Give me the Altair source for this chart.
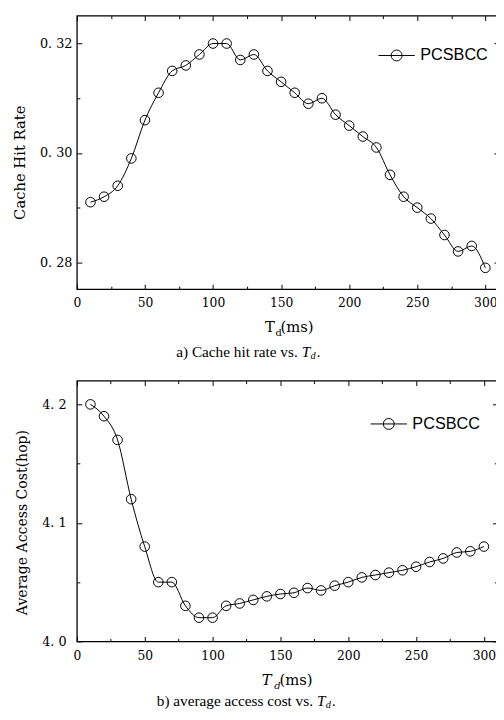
import altair as alt
import pandas as pd

# ---------------- data ----------------
td = [10, 20, 30, 40, 50, 60, 70, 80, 90, 100, 110, 120, 130, 140, 150,
      160, 170, 180, 190, 200, 210, 220, 230, 240, 250, 260, 270, 280, 290, 300]
hit_rate = [0.291, 0.292, 0.294, 0.299, 0.306, 0.311, 0.315, 0.316, 0.318, 0.320,
            0.320, 0.317, 0.318, 0.315, 0.313, 0.311, 0.309, 0.310, 0.307, 0.305,
            0.303, 0.301, 0.296, 0.292, 0.290, 0.288, 0.285, 0.282, 0.283, 0.279]
access_cost = [4.200, 4.190, 4.170, 4.120, 4.080, 4.050, 4.050, 4.030, 4.020, 4.020,
               4.030, 4.032, 4.035, 4.038, 4.040, 4.041, 4.045, 4.043, 4.047, 4.050,
               4.054, 4.056, 4.058, 4.060, 4.063, 4.067, 4.070, 4.075, 4.076, 4.080]
series_name = ["PCSBCC"]

x_tick_values = [0, 25, 50, 75, 100, 125, 150, 175, 200, 225, 250, 275, 300]
hit_tick_values = [0.28, 0.29, 0.30, 0.31, 0.32]
cost_tick_values = [4.0, 4.05, 4.1, 4.15, 4.2]

ytitle_a = "Cache Hit Rate"
ytitle_b = "Average Access Cost(hop)"
caption_a = "a) Cache hit rate vs."
caption_b = "b) average access cost vs."
xtitle_parts = ["T", "d", "(ms)"]
caption_tail = ["T", "d", "."]

SERIF = "DejaVu Serif"
CAPFONT = "Liberation Serif"
SANS = "Liberation Sans"
LEGEND_PATH = "M-1,0L1,0M0.3,0A0.3,0.3,0,1,1,-0.3,0A0.3,0.3,0,1,1,0.3,0"


def text_layer(txt, x, y, size, font=SERIF, style="normal", align="left"):
    return alt.Chart(pd.DataFrame({"t": [txt]})).mark_text(
        font=font, fontSize=size, fontStyle=style, align=align,
        baseline="middle", color="black"
    ).encode(text="t:N", x=alt.value(x), y=alt.value(y))


def panel(values, W, H, ydom, yvals, ymajor_test, yfmt, ytitle, ytitle_size,
          ytitle_x, ytitle_y, ylab_pad, leg_x, leg_y, xlab_pad, italic_T, xt_pos,
          caption, cap_pos):
    df = pd.DataFrame({"td": td, "v": values, "series": series_name * len(td)})
    xenc = alt.X(
        "td:Q",
        scale=alt.Scale(domain=[0, 310], nice=False, zero=False),
        axis=alt.Axis(
            values=x_tick_values, title=None, domain=False, ticks=False,
            grid=True, gridColor="black", gridOpacity=1, gridWidth=1,
            gridDash={"condition": {"test": "datum.value % 50 !== 0",
                                    "value": [3, H - 6, 3, 0]},
                      "value": [5, H - 10, 5, 0]},
            labelExpr="datum.value % 50 === 0 ? datum.label : ''",
            labelFont=SERIF, labelFontSize=12.5, labelColor="black",
            labelPadding=xlab_pad, labelFlush=False, labelOverlap=False,
        ),
    )
    yenc = alt.Y(
        "v:Q",
        scale=alt.Scale(domain=ydom, nice=False, zero=False),
        axis=alt.Axis(
            values=yvals, title=ytitle, domain=False, ticks=False,
            grid=True, gridColor="black", gridOpacity=1, gridWidth=1,
            gridDash={"condition": {"test": "!(" + ymajor_test + ")",
                                    "value": [3, W - 6, 3, 0]},
                      "value": [5, W - 10, 5, 0]},
            labelExpr="(" + ymajor_test + ") ? replace(format(datum.value, '" + yfmt
                      + "'), '.', '. ') : ''",
            labelFont=SERIF, labelFontSize=13, labelColor="black",
            labelPadding=ylab_pad, labelOverlap=False,
            titleFont=SERIF, titleFontSize=ytitle_size,
            titleFontWeight="normal", titleColor="black",
            titleX=ytitle_x, titleY=ytitle_y, titleAngle=-90,
            titleAlign="center", titleBaseline="middle",
        ),
    )
    base = alt.Chart(df).encode(x=xenc, y=yenc)
    line = base.mark_line(interpolate="monotone", strokeWidth=1).encode(
        color=alt.Color(
            "series:N",
            scale=alt.Scale(domain=series_name, range=["black"]),
            legend=alt.Legend(
                title=None, orient="none", legendX=leg_x, legendY=leg_y,
                symbolType=LEGEND_PATH, symbolSize=1369, symbolStrokeWidth=1,
                symbolFillColor="transparent", symbolStrokeColor="black",
                labelFont=SANS, labelFontSize=16.5, labelColor="black",
                labelOffset=5, padding=0,
            ),
        )
    )
    pts = base.mark_point(shape="circle", filled=False, size=95, strokeWidth=1,
                          color="black", opacity=1)

    style = "italic" if italic_T else "normal"
    tx, dx, mx, ty, dy = xt_pos
    xt = [
        text_layer(xtitle_parts[0], tx, ty, 15, style=style),
        text_layer(xtitle_parts[1], dx, dy, 10, style=style),
        text_layer(xtitle_parts[2], mx, ty, 15),
    ]
    jx, cy = cap_pos
    cap = [
        text_layer(caption, jx, cy, 15.5, font=CAPFONT, align="right"),
        text_layer(caption_tail[0], jx + 4, cy, 15.5, font=CAPFONT, style="italic"),
        text_layer(caption_tail[1], jx + 13, cy + 4, 10.5, font=CAPFONT, style="italic"),
        text_layer(caption_tail[2], jx + 19.5, cy, 15.5, font=CAPFONT, style="italic"),
    ]
    return alt.layer(line, pts, *xt, *cap).properties(width=W, height=H)


# plot origin (left edge of both frames) sits at page x = 78, top frame at page y = 10
top = panel(hit_rate, 429, 278, [0.2751, 0.3251], hit_tick_values,
            "round(datum.value * 100) % 2 === 0", ".2f", ytitle_a, 15, -58.5, 149, 5,
            306, 21.5, 8, False, (191.3, 202, 207, 316.7, 323), caption_a, (224.5, 342))
bottom = panel(access_cost, 427.5, 265, [4.0, 4.22], cost_tick_values,
               "round(datum.value * 100) % 10 === 0", ".1f", ytitle_b, 14.3, -55.5, 143.7, 11,
               298, 25, 8, True, (188, 200.7, 206, 304.5, 310.5), caption_b, (240, 326))

chart = alt.ConcatChart(concat=[top, bottom], columns=1, spacing=17).resolve_scale(
    color="independent"
).resolve_legend(color="independent").properties(
    autosize=alt.AutoSizeParams(type="none"),
    padding={"left": 70, "top": 2, "right": 426, "bottom": 702},
).configure_view(stroke="black", strokeWidth=1.3)

chart.save("out.html", embed_options={"renderer": "svg", "actions": False})
